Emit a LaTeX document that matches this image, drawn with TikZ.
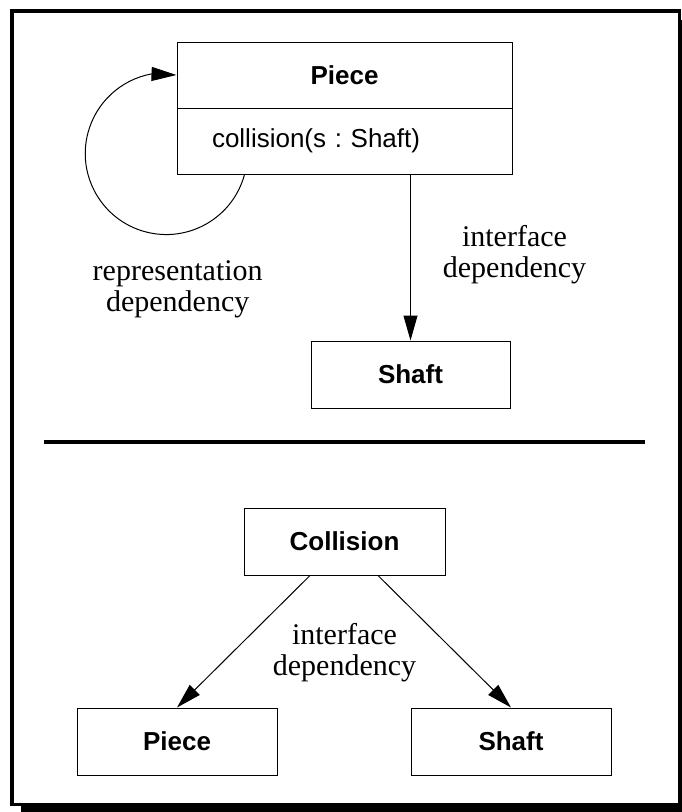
\documentclass[tikz,border=0pt]{standalone}
\usepackage{fontspec}
\setmainfont{Liberation Serif}
\setsansfont{Liberation Sans}
\usetikzlibrary{arrows.meta}
\frenchspacing

\tikzset{
  classbox/.style={draw, line width=1pt, inner sep=0pt, minimum height=67pt,
    font=\sffamily\bfseries\fontsize{26}{30}\selectfont},
  methodbox/.style={draw, line width=1pt, inner ysep=0pt, inner xsep=35pt,
    minimum height=66pt, text width=265pt, align=left,
    font=\sffamily\fontsize{26}{30}\selectfont},
  deplabel/.style={align=center, inner sep=0pt,
    font=\rmfamily\fontsize{30}{31}\selectfont},
  dep/.style={line width=1pt, -{Triangle[length=25pt,width=14pt]}},
}

\begin{document}
\begin{tikzpicture}[x=1pt, y=-1pt]
  \useasboundingbox (0,0) rectangle (682,812);
  \clip (0,0) rectangle (682,812);

  % page frame with drop shadow
  \fill[black] (21,20) rectangle (700,830);
  \draw[line width=3.5pt, fill=white] (11.75,10.75) rectangle (679.25,804.25);

  % ---- upper half: class Piece with its operation ----
  \node[classbox, minimum width=335pt, minimum height=66pt] (pieceT) at (344.5,75) {Piece};
  \node[methodbox] (pieceB) at (344.5,141) {collision(s : Shaft)};
  \node[classbox, minimum width=199pt] (shaftT) at (410.5,374.5) {Shaft};

  \draw[dep] (pieceB.south -| shaftT.north) -- (shaftT.north);
  \draw[dep] ([xshift=68pt]pieceB.south west)
      arc[start angle=-15, end angle=-259.3, radius=81pt] -- (pieceT.west);

  \node[deplabel] (repdep) at (177.7,289) {representation\\dependency};
  \node[deplabel] (ifdepA) at (514.5,255) {interface\\dependency};

  % separator
  \draw[line width=4pt] (44,441.5) -- (645,441.5);

  % ---- lower half: Collision depends on Piece and Shaft ----
  \node[classbox, minimum width=201pt] (coll) at (344.5,541.5) {Collision};
  \node[classbox, minimum width=200pt] (pieceL) at (177,741.5) {Piece};
  \node[classbox, minimum width=200pt] (shaftL) at (511,741.5) {Shaft};

  \draw[dep] ([xshift=-34.5pt]coll.south) -- (pieceL.north);
  \draw[dep] ([xshift=33.5pt]coll.south) -- (shaftL.north);

  \node[deplabel] (ifdepB) at (344.5,652.5) {interface\\dependency};
\end{tikzpicture}
\end{document}
